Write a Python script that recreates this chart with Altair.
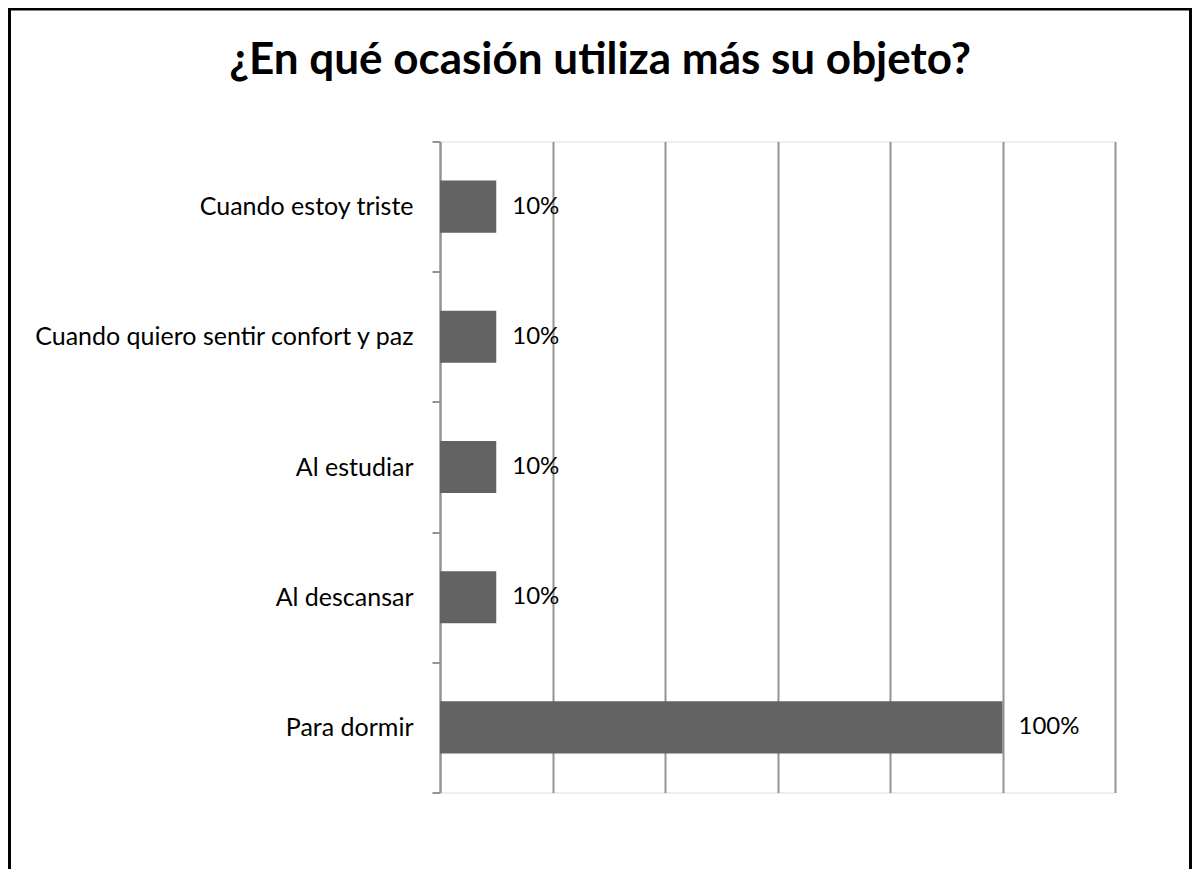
import altair as alt
import pandas as pd

categories = [
    "Cuando estoy triste",
    "Cuando quiero sentir confort y paz",
    "Al estudiar",
    "Al descansar",
    "Para dormir",
]
values = [0.10, 0.10, 0.10, 0.10, 1.00]
title_text = "¿En qué ocasión utiliza más su objeto?"
grid_values = [0, 0.2, 0.4, 0.6, 0.8, 1.0, 1.2]

df = pd.DataFrame({"cat": categories, "val": values})

FONT = "Lato"
GRAY = "#939393"

y_enc = alt.Y(
    "cat:N",
    sort=categories,
    scale=alt.Scale(paddingInner=0, paddingOuter=0),
    axis=alt.Axis(
        title=None,
        tickBand="extent",
        domainColor=GRAY,
        domainWidth=2,
        tickColor=GRAY,
        tickWidth=2,
        tickSize=8,
        labelPadding=19,
        labelFont=FONT,
        labelFontSize=25,
        labelColor="#000000",
        labelLimit=500,
        grid=False,
    ),
)
x_enc = alt.X(
    "val:Q",
    scale=alt.Scale(domain=[0, 1.2], nice=False),
    axis=alt.Axis(
        title=None,
        values=grid_values,
        labels=False,
        ticks=False,
        domain=False,
        grid=True,
        gridColor=GRAY,
        gridWidth=2,
    ),
)

base = alt.Chart(df)
bars = base.mark_bar(color="#636363", height=alt.RelativeBandSize(0.4)).encode(x=x_enc, y=y_enc)
labels = base.mark_text(
    align="left", baseline="middle", dx=16, font=FONT, fontSize=24, color="#000000"
).encode(x="val:Q", y=alt.Y("cat:N", sort=categories), text=alt.Text("val:Q", format=".0%"))

title_df = pd.DataFrame({"t": [title_text]})
title = alt.Chart(title_df).mark_text(
    align="center", baseline="alphabetic", font=FONT, fontSize=44, fontWeight="bold", color="#000000"
).encode(x=alt.value(160), y=alt.value(-68), text="t:N")

frame_df = pd.DataFrame({"f": [1]})
frame = alt.Chart(frame_df).mark_rect(
    fill="transparent", stroke="#000000", strokeWidth=3
).encode(x=alt.value(-430.5), x2=alt.value(750.5), y=alt.value(-132.5), y2=alt.value(900))

chart = (
    alt.layer(bars, labels, title, frame)
    .properties(
        width=675,
        height=651,
        autosize=alt.AutoSizeParams(type="none"),
        padding={"left": 432, "top": 133.5, "right": 77, "bottom": 76},
    )
    .configure_view(stroke=None)
    .configure(background="white")
)

chart.save("out.html", embed_options={"renderer": "svg", "actions": False})
